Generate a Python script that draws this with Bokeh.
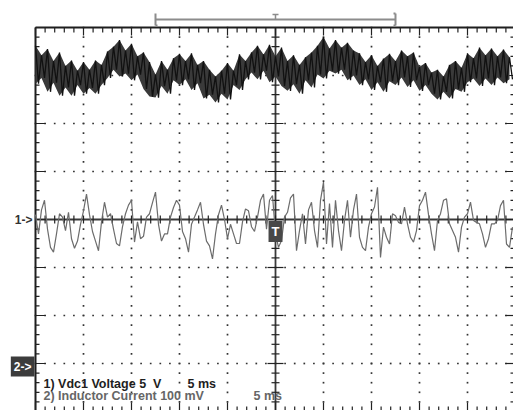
import numpy as np
from bokeh.plotting import figure
from bokeh.models import Range1d, Label
from bokeh.embed import file_html
from bokeh.resources import INLINE

# ---- data (screen divisions vs time in ms, 5 ms/div, trigger at 0) ----
dt = 0.3125  # ms between samples
ch1 = [
    3.62, 2.83, 3.42, 2.95, 3.55, 2.66, 3.30, 2.85, 3.48, 2.58,
    3.20, 2.75, 3.31, 2.58, 3.10, 2.80, 3.28, 2.62, 3.12, 2.74,
    3.31, 2.62, 3.22, 2.80, 3.50, 2.95, 3.60, 3.12, 3.74, 2.98,
    3.52, 3.04, 3.66, 2.90, 3.40, 3.02, 3.48, 2.72, 3.28, 2.56,
    3.02, 2.54, 3.30, 2.78, 3.12, 2.62, 3.36, 2.90, 3.45, 2.80,
    3.30, 2.92, 3.46, 2.70, 3.22, 2.84, 3.30, 2.52, 3.12, 2.60,
    2.98, 2.44, 3.10, 2.62, 3.26, 2.50, 3.10, 2.80, 3.44, 2.70,
    3.30, 2.92, 3.48, 3.06, 3.62, 2.92, 3.44, 3.10, 3.64, 2.86,
    3.40, 2.98, 3.58, 2.78, 3.30, 2.68, 3.42, 2.82, 3.22, 2.62,
    3.38, 2.90, 3.48, 2.75, 3.62, 3.02, 3.80, 2.94, 3.56, 3.10,
    3.74, 3.04, 3.58, 3.12, 3.68, 2.90, 3.52, 3.00, 3.46, 2.80,
    3.28, 2.92, 3.42, 2.70, 3.20, 2.86, 3.35, 2.66, 3.45, 2.88,
    3.30, 2.80, 3.52, 2.96, 3.40, 2.76, 3.48, 2.90, 3.18, 2.68,
    3.26, 2.80, 3.06, 2.62, 3.12, 2.50, 2.98, 2.66, 3.22, 2.52,
    3.30, 2.72, 3.16, 2.66, 3.46, 2.86, 3.36, 2.94, 3.58, 2.78,
    3.42, 2.94, 3.56, 2.80, 3.40, 2.96, 3.54, 2.84, 3.38, 2.92,
]
ch2 = [
    0.1, -0.3, 0.2, 0.4, -0.2, -0.58, -0.68, -0.3, 0.12, 0.05,
    -0.23, 0.15, -0.4, -0.6, -0.45, -0.1, 0.18, 0.53, 0.1, -0.25,
    -0.45, -0.65, -0.05, 0.36, 0.05, 0.12, -0.2, -0.5, -0.55, -0.15,
    0.12, 0.3, 0.4, -0.47, -0.05, -0.4, -0.35, 0.05, 0.12, 0.35,
    0.57, -0.1, -0.45, -0.3, -0.3, 0.05, 0.25, 0.4, 0.3, -0.25,
    -0.4, -0.68, -0.1,
    0.05, 0.2, 0.36, -0.1, -0.45, -0.55, -0.82, -0.3, 0.1, 0.3,
    0.0, -0.4, -0.1, -0.3, -0.5, -0.5, -0.05, 0.22, 0.18, -0.15,
    -0.25, 0.05, 0.4, 0.53, -0.2, 0.4, 0.5, -0.3, -0.58, -0.44,
    0.05, 0.15, 0.45, 0.53, -0.65, -0.23, 0.12, -0.51, 0.2, 0.36,
    -0.23, -0.58, 0.4, 0.78, -0.51, 0.33, -0.58, 0.4, -0.23, -0.65,
    -0.02, 0.4, -0.37,
    0.2, 0.53, -0.37, -0.58, -0.65, -0.16, 0.12, 0.26, 0.67, -0.79,
    -0.16, -0.37, -0.51, 0.12, 0.08, -0.06, -0.09, 0.26, -0.09, -0.37,
    -0.47, -0.23, 0.29, 0.4, 0.57, 0.1, -0.3, -0.65, -0.02, 0.12,
    0.4, 0.43, -0.09, -0.23, -0.37, -0.68, -0.16, 0.05, 0.12, 0.36,
    -0.02, -0.06, -0.09, -0.3, -0.58, -0.4, -0.09, -0.09, -0.02, 0.29,
    0.4, -0.51, -0.58, -0.16,
]
ch2_ref_level = -3.0          # "2->" marker level (div)
trig_window = [-12.5, 12.5]   # ms, shown on top bracket
NB = "\u00a0"
legend_lines = ["1) Vdc1 Voltage 5" + NB * 2 + "V", "2) Inductor Current 100 mV"]
legend_time = ["5 ms", "5 ms"]

# ---- geometry ----
PXX = 9.6   # px per ms
PXY = 48.0  # px per div
dx, dy = 1 / PXX, 1 / PXY

p = figure(width=513, height=410, output_backend="svg", toolbar_location=None,
           x_range=Range1d(-25 - 35 * dx, -25 + 478 * dx),
           y_range=Range1d(4 - 383 * dy, 4 + 27 * dy),
           x_axis_location=None, y_axis_location=None,
           min_border_left=0, min_border_right=0, min_border_top=0, min_border_bottom=0)
p.grid.visible = False
p.outline_line_color = None
p.background_fill_color = "white"
p.border_fill_color = "white"

xmaj = np.arange(-25, 25.001, 5)
xmin = np.arange(-25, 25.001, 1)
ymaj = np.arange(-4, 4.001, 1)
ymin = np.round(np.arange(-4, 4.001, 0.2), 6)

# dotted graticule
dxs, dys = [], []
for xv in xmaj:
    if abs(xv) in (0, 25):
        continue
    dxs += [xv] * len(ymin)
    dys += list(ymin)
for yv in ymaj:
    if abs(yv) in (0, 4):
        continue
    dxs += list(xmin)
    dys += [yv] * len(xmin)
p.scatter(dxs, dys, marker="square", size=1.7, fill_color="#333333", line_color=None)

# borders and centre lines
p.segment(x0=[-25, -25, 25, -25], y0=[-4, 4, -4, -4], x1=[-25, 25, 25, 25], y1=[4, 4, 4, -4],
          line_color="#1e1e1e", line_width=2)
p.segment(x0=[-25, 0], y0=[0, -4], x1=[25, 0], y1=[0, 4], line_color="#3a3a3a", line_width=1.8)

def is_major(v, step):
    return abs(v / step - round(v / step)) < 1e-6

# ticks
sx0, sy0, sx1, sy1 = [], [], [], []
for xv in xmin:
    m = is_major(xv, 5)
    L = 8 if m else 5
    sx0 += [xv, xv, xv]; sx1 += [xv, xv, xv]
    sy0 += [4, -4, -4 * dy]
    sy1 += [4 - L * dy, -4 + (9 if m else 5) * dy, 4 * dy]
for yv in ymin:
    m = is_major(yv, 1)
    sy0 += [yv, yv, yv]; sy1 += [yv, yv, yv]
    sx0 += [-25, 25, -(8 if m else 4) * dx]
    sx1 += [-25 + (10 if m else 4) * dx, 25 - (10 if m else 5) * dx, (8 if m else 4) * dx]
p.segment(x0=sx0, y0=sy0, x1=sx1, y1=sy1, line_color="#222222", line_width=1.2)

# traces
t1 = -25 + dt * np.arange(len(ch1))
t2 = -25 + dt * np.arange(len(ch2))
p.line(t2, ch2, line_color="#6c6c6c", line_width=1.2)
c1 = np.array(ch1)
p.varea(x=t1[0::2], y1=c1[0::2], y2=c1[1::2], fill_color="#3a3a3a")
p.line(t1, ch1, line_color="#111111", line_width=1.3)

# trigger window bracket on top
yb = 200 * dy
p.segment(x0=[trig_window[0], trig_window[0], trig_window[0], trig_window[1], trig_window[1], trig_window[1]],
          y0=[yb, yb + 6 * dy, yb - 6 * dy, yb + 6 * dy, yb + 6 * dy, yb - 6 * dy],
          x1=[trig_window[1], trig_window[0], trig_window[0] + 2 * dx, trig_window[1], trig_window[1] - 2 * dx, trig_window[1] - 2 * dx],
          y1=[yb, yb - 6 * dy, yb - 6 * dy, yb - 6 * dy, yb + 6 * dy, yb - 6 * dy],
          line_color="#8c8c8c", line_width=2)
p.segment(x0=[-3 * dx, 0], y0=[yb + 5 * dy, yb + 5 * dy], x1=[3 * dx, 0], y1=[yb + 5 * dy, yb],
          line_color="#8c8c8c", line_width=1.5)

# markers
p.add_layout(Label(x=-25, y=0, x_offset=-3, text="1->", text_align="right", text_baseline="middle",
                   text_font="Liberation Sans", text_font_style="bold", text_font_size="12px",
                   text_color="#333333"))
p.add_layout(Label(x=-25, y=ch2_ref_level - 3 * dy, x_offset=-1, text="2->", text_align="right",
                   text_baseline="middle", text_font="Liberation Sans", text_font_style="bold",
                   text_font_size="12px", text_color="white", background_fill_color="#3c3c3c",
                   padding=3))
p.add_layout(Label(x=0, y=-12 * dy, text="T", text_align="center", text_baseline="middle",
                   text_font="Liberation Sans", text_font_style="bold", text_font_size="13px",
                   text_color="white", background_fill_color="#484848", padding=3))

# legend text
for i, (txt, col) in enumerate(zip(legend_lines, ["#1e1e1e", "#666666"])):
    ypos = (-164 - 12 * i) * dy
    p.add_layout(Label(x=-25, y=ypos, x_offset=8, text=txt, text_align="left", text_baseline="alphabetic",
                       text_font="Liberation Sans", text_font_style="bold", text_font_size="12.5px",
                       text_color=col))
p.add_layout(Label(x=-25 + 152 * dx, y=-164 * dy, text=legend_time[0], text_align="left",
                   text_baseline="alphabetic", text_font="Liberation Sans", text_font_style="bold",
                   text_font_size="12.5px", text_color="#1e1e1e"))
p.add_layout(Label(x=-25 + 218 * dx, y=-176 * dy, text=legend_time[1], text_align="left",
                   text_baseline="alphabetic", text_font="Liberation Sans", text_font_style="bold",
                   text_font_size="12.5px", text_color="#666666"))

open("out.html", "w").write(file_html(p, INLINE))
